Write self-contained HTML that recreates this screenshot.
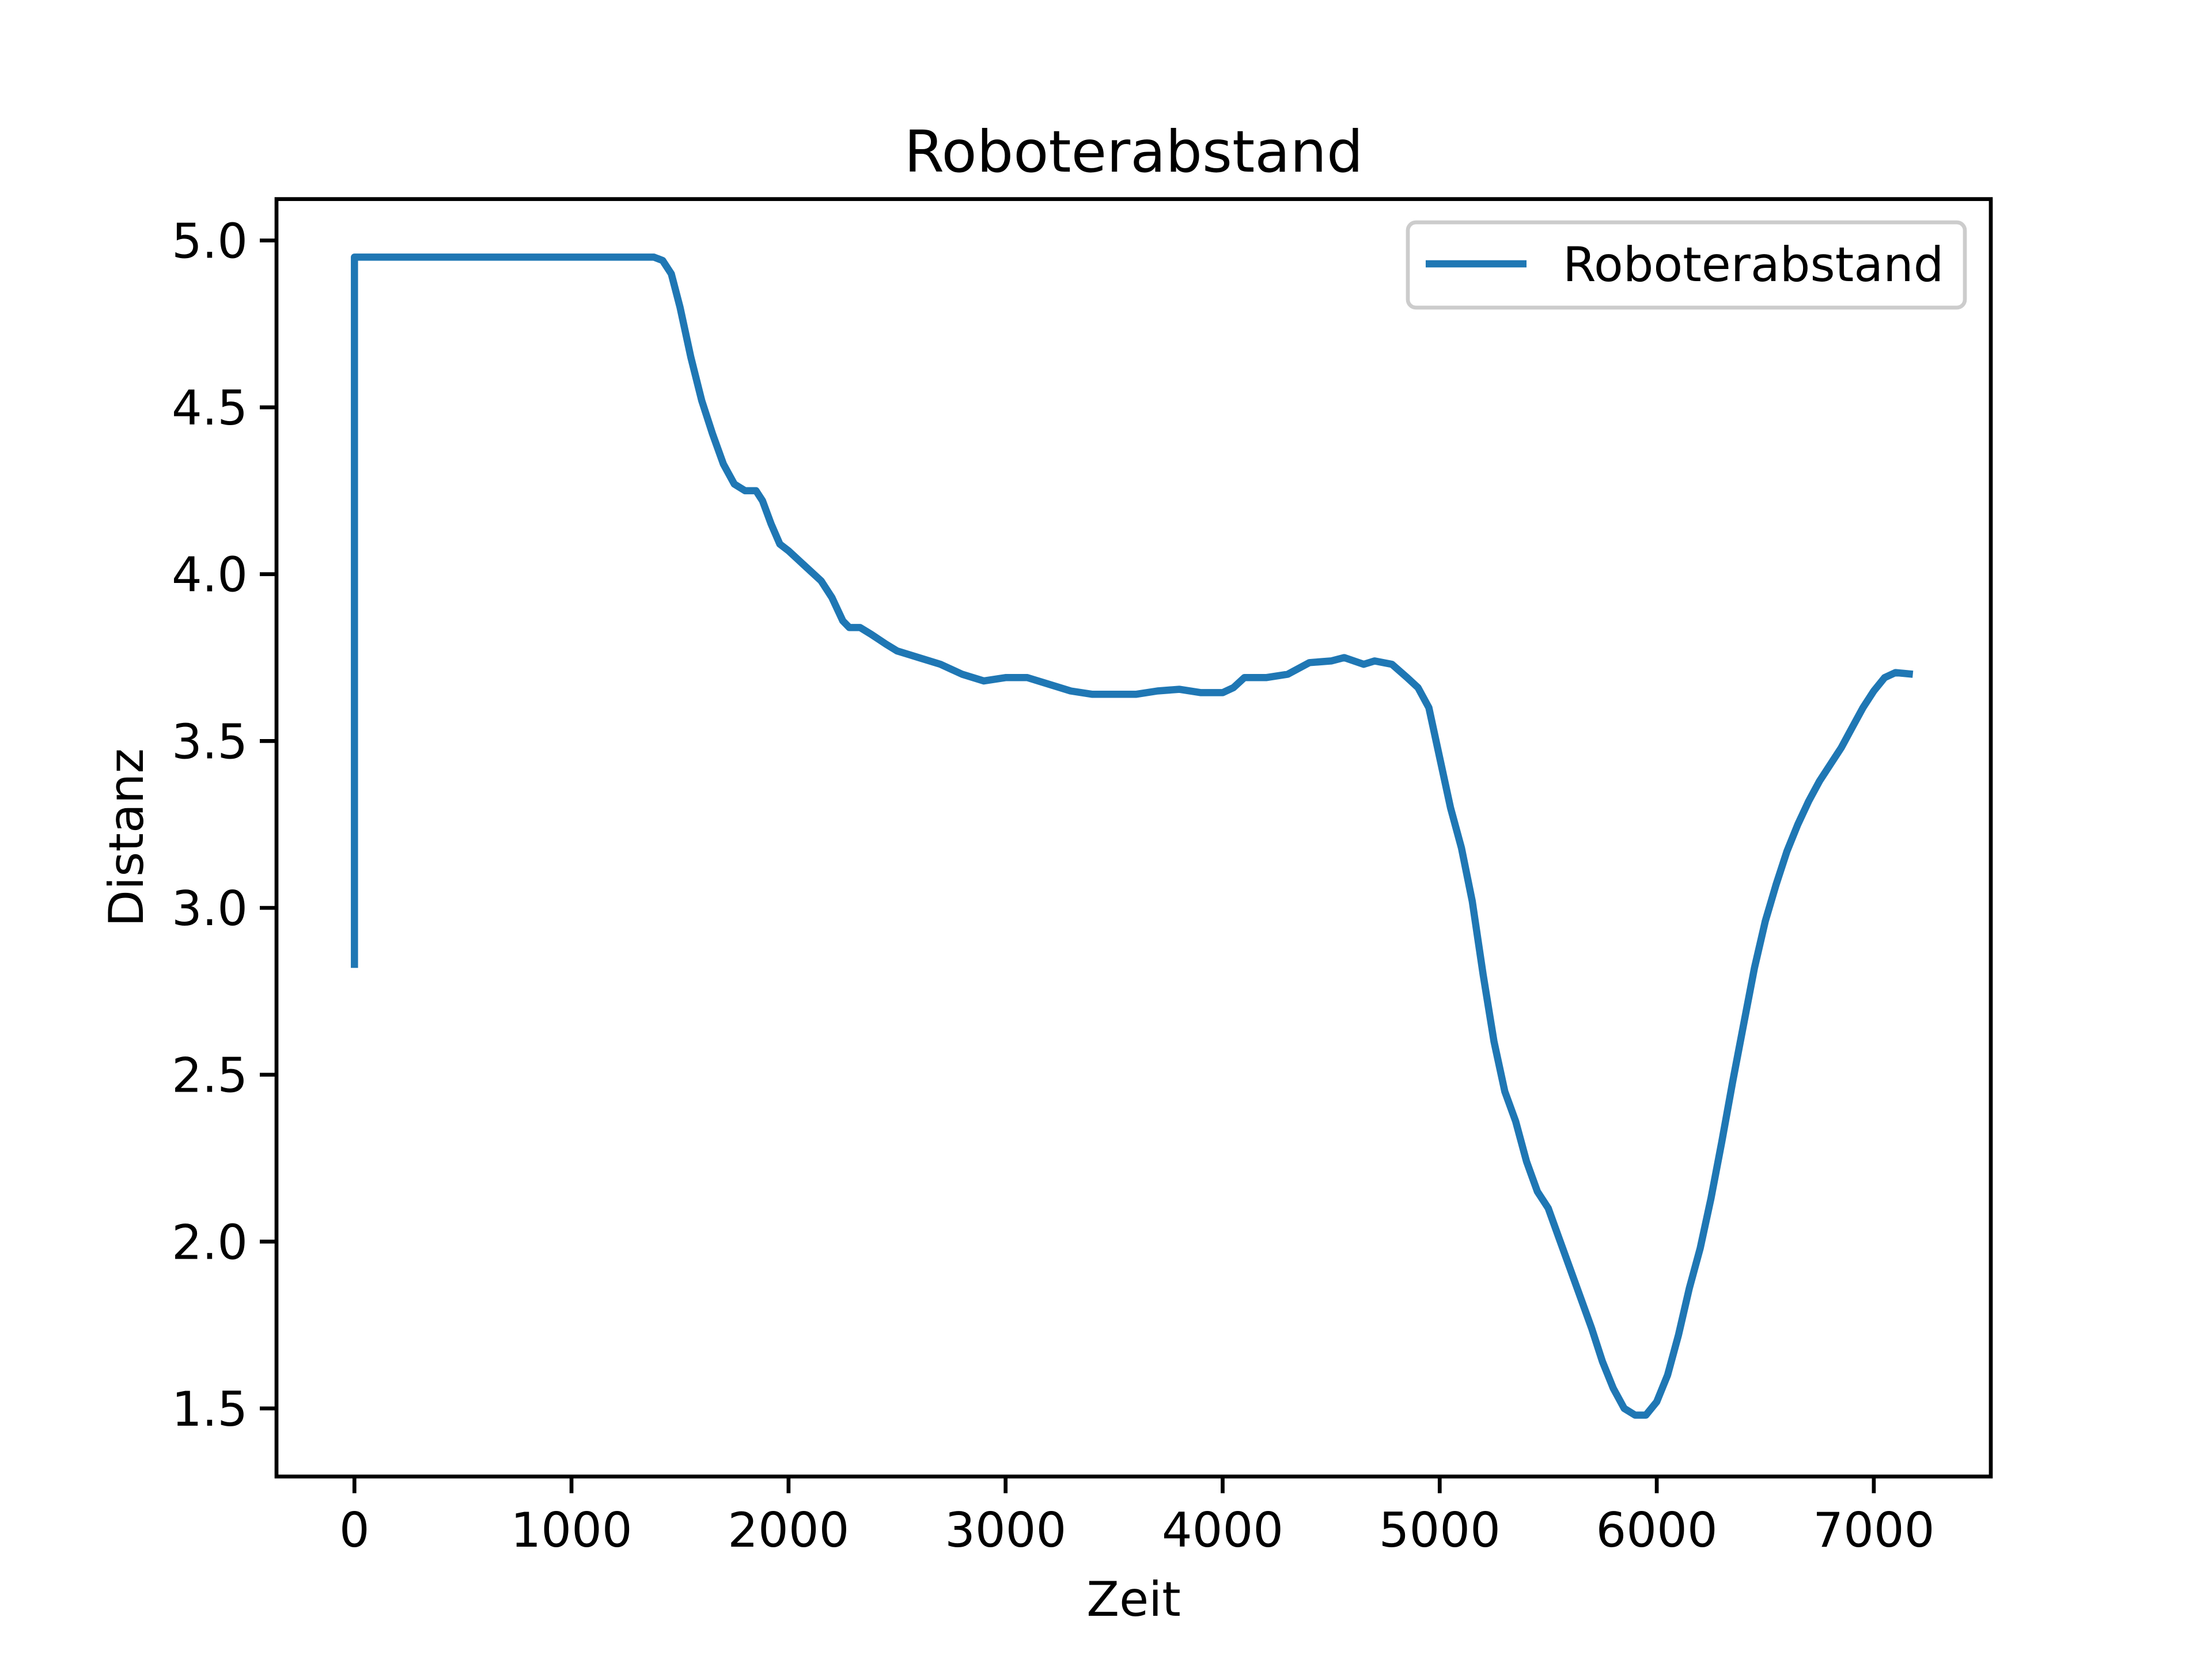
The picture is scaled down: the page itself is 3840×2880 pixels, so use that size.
<!DOCTYPE html>
<html><head><meta charset="utf-8">
<style>
html,body{margin:0;padding:0;background:#fff;}
svg{display:block;font-family:"DejaVu Sans","Liberation Sans",sans-serif;}
</style></head>
<body>
<svg id="chart" width="3840" height="2880" viewBox="0 0 3840 2880" xmlns="http://www.w3.org/2000/svg">
<rect x="0" y="0" width="3840" height="2880" fill="#fff"/>
<text x="1968" y="298" font-size="100" text-anchor="middle">Roboterabstand</text>
<text x="1968" y="2805" font-size="83" text-anchor="middle">Zeit</text>
<text x="0" y="0" font-size="83" text-anchor="middle" transform="translate(248,1454) rotate(-90)">Distanz</text>
<g id="ticks"></g>
<g id="plot"></g>
<rect x="480" y="345.6" width="2976" height="2217.6" fill="none" stroke="#000" stroke-width="6.7"/>
<g>
<rect x="2444" y="386" width="967" height="148" rx="14" fill="#fff" fill-opacity="0.8" stroke="#ccc" stroke-width="6.7"/>
<line x1="2475" y1="458" x2="2650" y2="458" stroke="#1f77b4" stroke-width="12.5"/>
<text x="2713" y="488" font-size="83">Roboterabstand</text>
</g>
</svg>
<script>
const xs=[0,0,20,1380,1420,1460,1500,1550,1600,1650,1700,1750,1800,1850,1880,1920,1960,2000,2050,2100,2150,2200,2250,2280,2330,2380,2450,2500,2600,2700,2800,2900,3000,3100,3200,3300,3400,3500,3600,3700,3800,3900,4000,4050,4100,4200,4300,4400,4500,4560,4650,4700,4780,4850,4900,4950,5000,5050,5100,5150,5200,5250,5300,5350,5400,5450,5500,5550,5600,5650,5700,5750,5800,5850,5900,5950,6000,6050,6100,6150,6200,6250,6300,6350,6400,6450,6500,6550,6600,6650,6700,6750,6800,6850,6900,6950,7000,7050,7100,7180];
const ys=[2.82,4.95,4.95,4.95,4.94,4.90,4.80,4.65,4.52,4.42,4.33,4.27,4.25,4.25,4.22,4.15,4.09,4.07,4.04,4.01,3.98,3.93,3.86,3.84,3.84,3.82,3.79,3.77,3.75,3.73,3.70,3.68,3.69,3.69,3.67,3.65,3.64,3.64,3.64,3.65,3.655,3.645,3.645,3.66,3.69,3.69,3.70,3.735,3.74,3.75,3.73,3.74,3.73,3.69,3.66,3.60,3.45,3.30,3.18,3.02,2.80,2.60,2.45,2.36,2.24,2.15,2.10,2.01,1.92,1.83,1.74,1.64,1.56,1.50,1.48,1.48,1.52,1.60,1.72,1.86,1.98,2.13,2.30,2.48,2.65,2.82,2.96,3.07,3.17,3.25,3.32,3.38,3.43,3.48,3.54,3.60,3.65,3.69,3.705,3.70];
const xTicks=[0,1000,2000,3000,4000,5000,6000,7000];
const yTicks=[1.5,2.0,2.5,3.0,3.5,4.0,4.5,5.0];
const X0=480,X1=3456,Y0=2563.2,Y1=345.6;
const xmin=-359,xmax=7539,ymin=1.296,ymax=5.124;
function sx(v){return X0+(v-xmin)/(xmax-xmin)*(X1-X0);}
function sy(v){return Y0-(v-ymin)/(ymax-ymin)*(Y0-Y1);}
const NS="http://www.w3.org/2000/svg";
const tg=document.getElementById('ticks');
xTicks.forEach(t=>{
 const l=document.createElementNS(NS,'line');
 l.setAttribute('x1',sx(t));l.setAttribute('x2',sx(t));l.setAttribute('y1',Y0);l.setAttribute('y2',Y0+29);
 l.setAttribute('stroke','#000');l.setAttribute('stroke-width','6.7');
 
 
 tg.appendChild(l);
 const tx=document.createElementNS(NS,'text');
 tx.setAttribute('x',sx(t));tx.setAttribute('y',Y0+122);tx.setAttribute('font-size','83');tx.setAttribute('text-anchor','middle');
 tx.textContent=String(t);
 
 
 tg.appendChild(tx);
});
yTicks.forEach(t=>{
 const l=document.createElementNS(NS,'line');
 l.setAttribute('x1',X0-29);l.setAttribute('x2',X0);l.setAttribute('y1',sy(t));l.setAttribute('y2',sy(t));
 l.setAttribute('stroke','#000');l.setAttribute('stroke-width','6.7');
 
 
 tg.appendChild(l);
 const tx=document.createElementNS(NS,'text');
 tx.setAttribute('x',X0-50);tx.setAttribute('y',sy(t)+30);tx.setAttribute('font-size','83');tx.setAttribute('text-anchor','end');
 tx.textContent=t.toFixed(1);
 
 
 tg.appendChild(tx);
});
const p=document.createElementNS(NS,'polyline');
p.setAttribute('points',xs.map((x,i)=>sx(x).toFixed(1)+','+sy(ys[i]).toFixed(1)).join(' '));
p.setAttribute('fill','none');p.setAttribute('stroke','#1f77b4');p.setAttribute('stroke-width','12.5');p.setAttribute('stroke-linejoin','round');


document.getElementById('plot').appendChild(p);
</script>
</body></html>
